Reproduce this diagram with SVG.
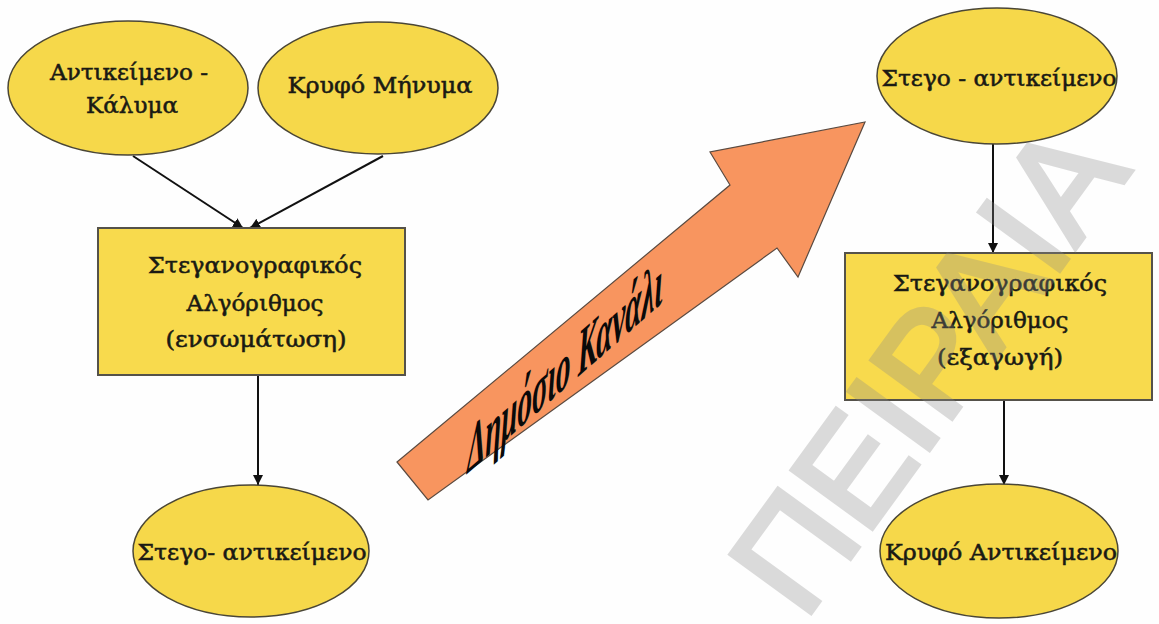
<svg xmlns="http://www.w3.org/2000/svg" width="1159" height="624" viewBox="0 0 1159 624">
  <defs>
    <marker id="arrowhead" viewBox="0 0 10 10" refX="10" refY="5" markerWidth="5" markerHeight="5" markerUnits="strokeWidth" orient="auto">
      <path d="M0,0 L10,5 L0,10 z" fill="#111"/>
    </marker>
    <style>
      .oval { fill: #F6D84A; stroke: #4a4636; stroke-width: 1.5; }
      .box { fill: #F8DA4D; stroke: #55524a; stroke-width: 2; }
      .label { font-family: "DejaVu Serif", "Liberation Serif", serif; font-size: 23px; fill: #1a1a14; stroke: #1a1a14; stroke-width: 0.55; text-anchor: middle; }
      .edge { stroke: #111; stroke-width: 2; fill: none; marker-end: url(#arrowhead); }
    </style>
  </defs>

  <rect width="1159" height="624" fill="#fefefe"/>

  <!-- public channel arrow -->
  <g id="channel">
    <polygon points="397,462 730,185 710,152 865,122 798,277 777,248 428,500" fill="#F8955F" stroke="#5a4a40" stroke-width="1.2"/>
    <text transform="matrix(0.752,-0.659,0,1,467,474)" font-family="'Liberation Serif', serif" font-style="italic" font-weight="bold" font-size="66" fill="#0a0a0a" textLength="260" lengthAdjust="spacingAndGlyphs">Δημόσιο Κανάλι</text>
  </g>

  <!-- connectors -->
  <g id="connectors">
    <line class="edge" x1="133" y1="156" x2="243" y2="228"/>
    <line class="edge" x1="383" y1="156" x2="250" y2="228"/>
    <line class="edge" x1="258" y1="375" x2="258" y2="485"/>
    <line class="edge" x1="993" y1="144" x2="993" y2="253"/>
    <line class="edge" x1="1004" y1="400" x2="1004" y2="485"/>
  </g>

  <!-- embedding side -->
  <g id="cover-object">
    <ellipse class="oval" cx="128" cy="88" rx="120" ry="67"/>
    <text class="label" x="129" y="80" textLength="158" lengthAdjust="spacingAndGlyphs">Αντικείμενο -</text>
    <text class="label" x="132" y="113" textLength="92" lengthAdjust="spacingAndGlyphs">Κάλυμα</text>
  </g>
  <g id="hidden-message">
    <ellipse class="oval" cx="378" cy="88" rx="120" ry="66"/>
    <text class="label" x="380" y="93" textLength="185" lengthAdjust="spacingAndGlyphs">Κρυφό Μήνυμα</text>
  </g>
  <g id="embed-algorithm">
    <rect class="box" x="98" y="228" width="307" height="147"/>
    <text class="label" x="255" y="273" textLength="214" lengthAdjust="spacingAndGlyphs">Στεγανογραφικός</text>
    <text class="label" x="255" y="311" textLength="137" lengthAdjust="spacingAndGlyphs">Αλγόριθμος</text>
    <text class="label" x="256" y="347" textLength="181" lengthAdjust="spacingAndGlyphs">(ενσωμάτωση)</text>
  </g>
  <g id="stego-object-out">
    <ellipse class="oval" cx="251" cy="551" rx="118" ry="66"/>
    <text class="label" x="252" y="560" textLength="229" lengthAdjust="spacingAndGlyphs">Στεγο- αντικείμενο</text>
  </g>

  <!-- extraction side -->
  <g id="stego-object-in">
    <ellipse class="oval" cx="997" cy="76" rx="120" ry="68"/>
    <text class="label" x="999" y="86" textLength="235" lengthAdjust="spacingAndGlyphs">Στεγο - αντικείμενο</text>
  </g>
  <g id="extract-algorithm">
    <rect class="box" x="845" y="253" width="307" height="147"/>
    <text class="label" x="1000" y="291" textLength="214" lengthAdjust="spacingAndGlyphs">Στεγανογραφικός</text>
    <text class="label" x="1000" y="328" textLength="137" lengthAdjust="spacingAndGlyphs">Αλγόριθμος</text>
    <text class="label" x="1000" y="365" textLength="126" lengthAdjust="spacingAndGlyphs">(εξαγωγή)</text>
  </g>
  <g id="hidden-object">
    <ellipse class="oval" cx="999" cy="551" rx="119" ry="67"/>
    <text class="label" x="1001" y="560" textLength="232" lengthAdjust="spacingAndGlyphs">Κρυφό Αντικείμενο</text>
  </g>

  <!-- diagonal watermark -->
  <text transform="translate(804,622) rotate(-54)" font-family="'Liberation Sans', Arial, sans-serif" font-size="144" fill="#8a8a8a" stroke="#8a8a8a" stroke-width="5" stroke-linejoin="miter" opacity="0.3">ΠΕΙΡΑΙΑ</text>
</svg>
